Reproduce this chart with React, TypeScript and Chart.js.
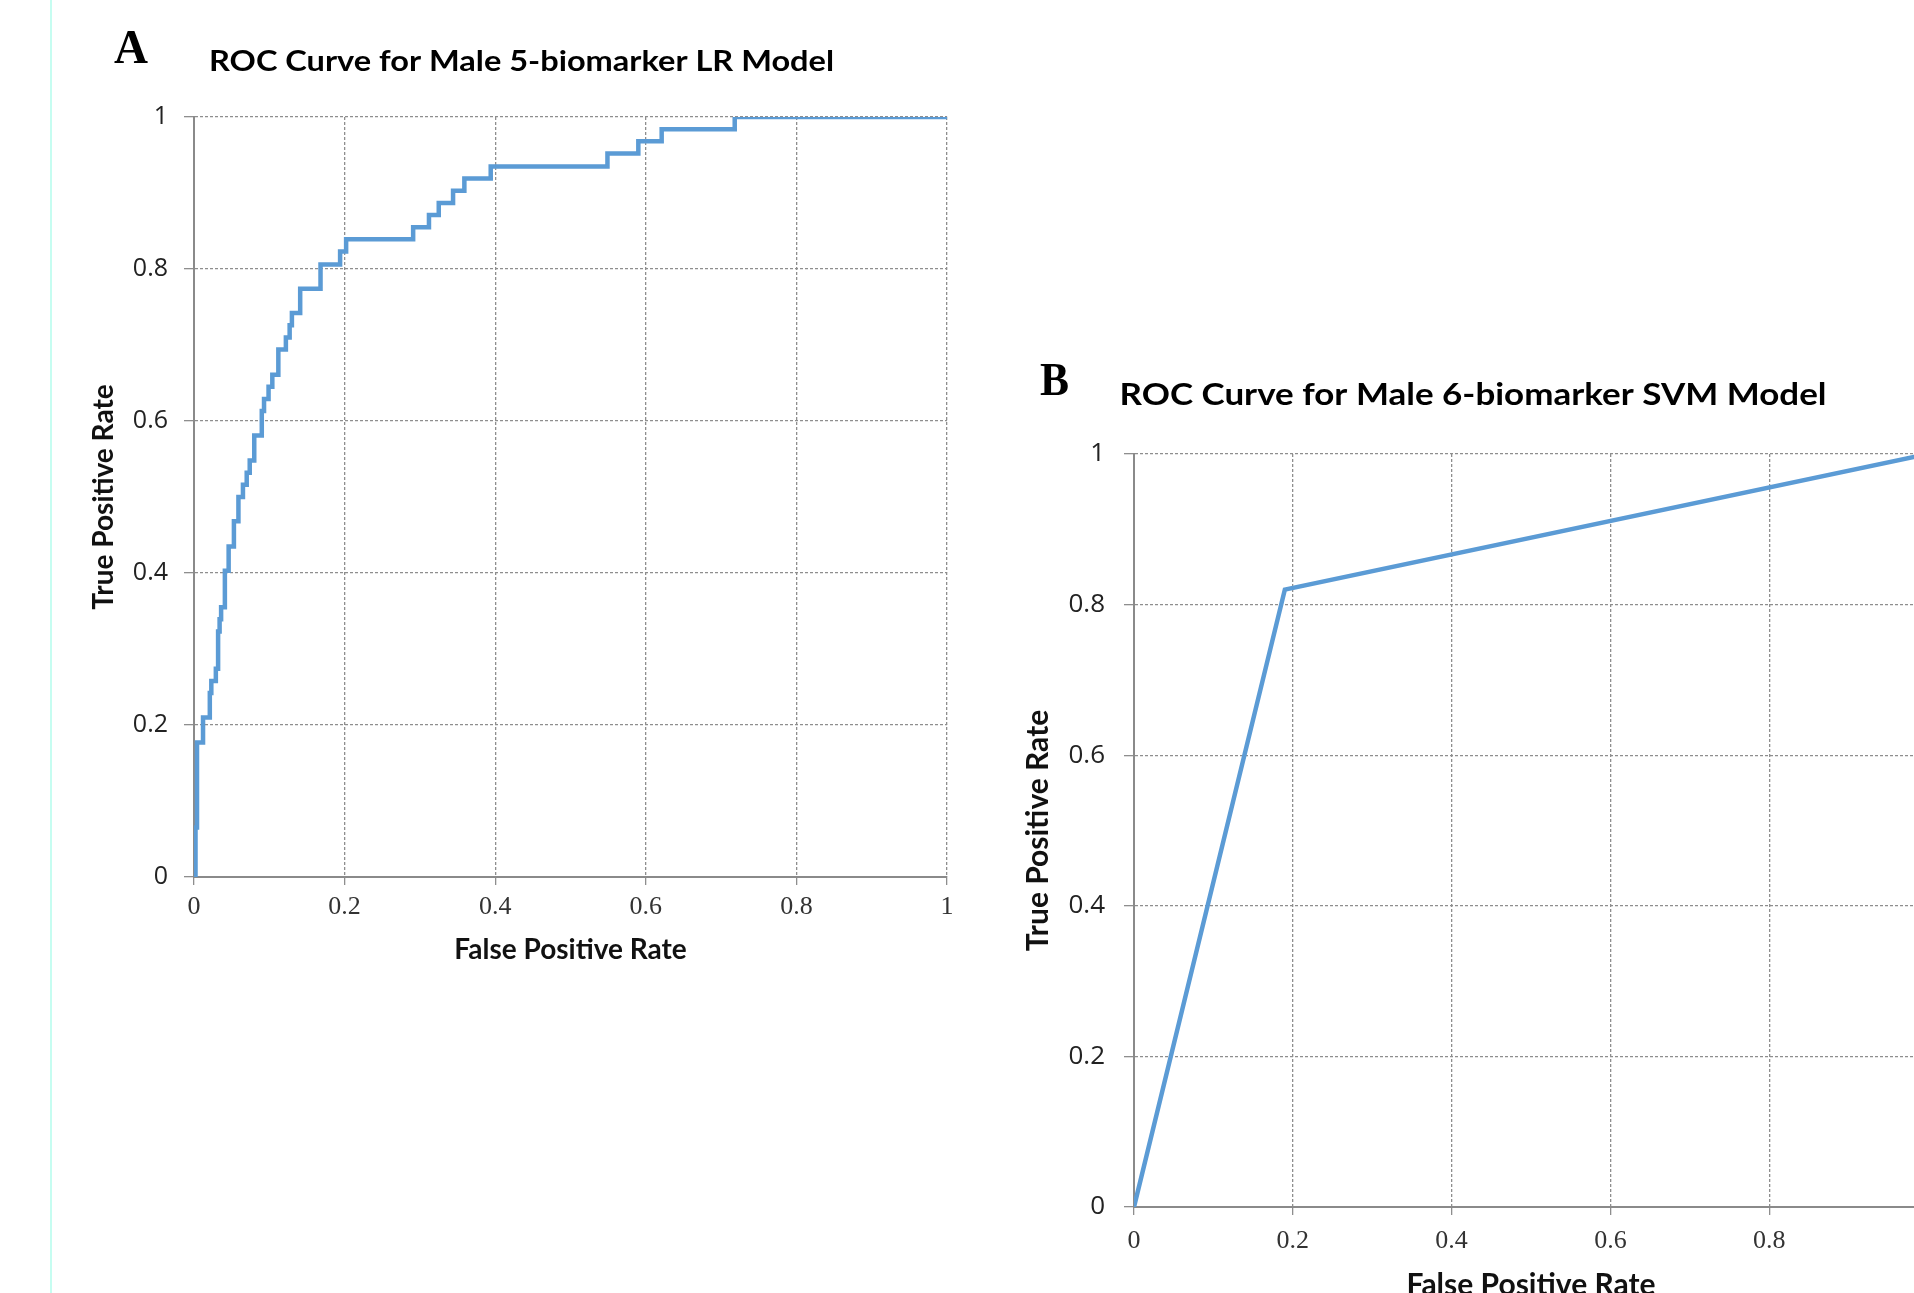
import React, { useEffect, useRef } from 'react';
import { Chart, registerables } from 'chart.js';

Chart.register(...registerables);

// Panel A: ROC corners (false positive rate, true positive rate)
const fprA = [0, 0.002, 0.004, 0.012, 0.021, 0.023, 0.029, 0.032, 0.034, 0.036, 0.041, 0.046, 0.053, 0.059, 0.065, 0.070, 0.074, 0.080, 0.090, 0.093, 0.099, 0.104, 0.112, 0.122, 0.127, 0.130, 0.141, 0.168, 0.194, 0.202, 0.291, 0.312, 0.325, 0.344, 0.359, 0.394, 0.549, 0.590, 0.621, 0.718, 1.0];
const tprA = [0, 0.065, 0.177, 0.210, 0.242, 0.258, 0.274, 0.323, 0.339, 0.355, 0.403, 0.435, 0.468, 0.500, 0.516, 0.532, 0.548, 0.581, 0.613, 0.629, 0.645, 0.661, 0.694, 0.710, 0.726, 0.742, 0.774, 0.806, 0.823, 0.839, 0.855, 0.871, 0.887, 0.903, 0.919, 0.935, 0.952, 0.968, 0.984, 1.0, 1.0];

// Panel B: SVM ROC points
const fprB = [0, 0.19, 1];
const tprB = [0, 0.82, 1];

const xTickLabels = ['0', '0.2', '0.4', '0.6', '0.8', '1'];
const yTickLabels = ['0', '0.2', '0.4', '0.6', '0.8', '1'];

const titleA = 'ROC Curve for Male 5-biomarker LR Model';
const titleB = 'ROC Curve for Male 6-biomarker SVM Model';
const xTitle = 'False Positive Rate';
const yTitle = 'True Positive Rate';

const LINE_BLUE = '#5b9bd5';
const GRID = '#8e8e8e';

type TextItem = { text: string; x: number; y: number; font: string; width?: number };

function makeTextPlugin(items: TextItem[]) {
  return {
    id: 'panelText',
    afterDraw(chart: any) {
      const ctx = chart.ctx as CanvasRenderingContext2D;
      items.forEach((it) => {
        ctx.save();
        ctx.font = it.font;
        ctx.fillStyle = '#000';
        ctx.textBaseline = 'alphabetic';
        ctx.textAlign = 'left';
        const w = ctx.measureText(it.text).width;
        const sx = it.width ? it.width / w : 1;
        ctx.translate(it.x, it.y);
        ctx.scale(sx, 1);
        ctx.fillText(it.text, 0, 0);
        ctx.restore();
      });
    },
  };
}

type Cfg = {
  xs: number[];
  ys: number[];
  stepped: boolean;
  padding: { left: number; top: number; right: number; bottom: number };
  yWidth: number;
  xHeight: number;
  yTickPad: number;
  xTickPad: number;
  yTitlePad: number;
  xTitlePad: number;
  titleSize: number;
  tickSizeY: number;
  items: TextItem[];
};

function makeConfig(c: Cfg): any {
  const pts = c.xs.map((x, i) => ({ x, y: c.ys[i] }));
  const gridCommon = { color: GRID, lineWidth: 1.3 };
  const border = { display: true, color: '#8a8a8a', width: 2, dash: [3, 2] };
  return {
    type: 'line',
    data: {
      datasets: [
        {
          data: pts,
          borderColor: LINE_BLUE,
          borderWidth: 4.5,
          pointRadius: 0,
          tension: 0,
          stepped: c.stepped ? 'before' : false,
          borderJoinStyle: 'miter',
          fill: false,
        },
      ],
    },
    options: {
      animation: false,
      responsive: false,
      devicePixelRatio: 1,
      layout: { padding: c.padding },
      plugins: { legend: { display: false }, tooltip: { enabled: false }, title: { display: false } },
      scales: {
        x: {
          type: 'linear',
          min: 0,
          max: 1,
          ticks: {
            stepSize: 0.2,
            padding: c.xTickPad,
            color: '#333',
            font: { family: "'Liberation Serif', serif", size: 26 },
            maxRotation: 0,
            callback: (_v: any, i: number) => xTickLabels[i],
          },
          grid: { ...gridCommon, tickLength: 8 },
          border,
          title: {
            display: true,
            text: xTitle,
            color: '#111',
            font: { family: 'Lato', size: c.titleSize, weight: 'bold' },
            padding: { top: 0, bottom: c.xTitlePad },
          },
          afterFit: (s: any) => {
            s.height = c.xHeight;
          },
        },
        y: {
          type: 'linear',
          min: 0,
          max: 1,
          ticks: {
            stepSize: 0.2,
            padding: c.yTickPad,
            color: '#222',
            font: { family: "'Open Sans'", size: c.tickSizeY },
            callback: (_v: any, i: number) => yTickLabels[i],
          },
          grid: { ...gridCommon, tickLength: 10 },
          border,
          title: {
            display: true,
            text: yTitle,
            color: '#111',
            font: { family: 'Lato', size: c.titleSize, weight: 'bold' },
            padding: { top: c.yTitlePad, bottom: 0 },
          },
          afterFit: (s: any) => {
            s.width = c.yWidth;
          },
        },
      },
    },
    plugins: [makeTextPlugin(c.items)],
  };
}

function ChartCanvas({ cfg, left, top, width, height }: { cfg: Cfg; left: number; top: number; width: number; height: number }) {
  const ref = useRef<HTMLCanvasElement | null>(null);
  useEffect(() => {
    if (!ref.current) return;
    const chart = new Chart(ref.current, makeConfig(cfg));
    return () => chart.destroy();
  }, []);
  return (
    <canvas
      ref={ref}
      width={width}
      height={height}
      style={{ position: 'absolute', left, top, width, height }}
    />
  );
}

const cfgA: Cfg = {
  xs: fprA,
  ys: tprA,
  stepped: true,
  padding: { left: 0, top: 117, right: 11, bottom: 0 },
  yWidth: 194,
  xHeight: 123,
  yTickPad: 16,
  xTickPad: 6.4,
  yTitlePad: 87.2,
  xTitlePad: 33.7,
  titleSize: 28,
  tickSizeY: 25,
  items: [
    { text: 'A', x: 114, y: 63, font: "bold 48px 'Liberation Serif'", width: 34 },
    { text: titleA, x: 209, y: 71, font: 'bold 29px Lato', width: 625 },
  ],
};

const cfgB: Cfg = {
  xs: fprB,
  ys: tprB,
  stepped: false,
  padding: { left: 0, top: 154, right: 32, bottom: 0 },
  yWidth: 174,
  xHeight: 143,
  yTickPad: 19,
  xTickPad: 10.8,
  yTitlePad: 60,
  xTitlePad: 47,
  titleSize: 30,
  tickSizeY: 26,
  items: [
    { text: 'B', x: 80, y: 95, font: "bold 46px 'Liberation Serif'", width: 29 },
    { text: titleB, x: 159.5, y: 105, font: 'bold 30px Lato', width: 707 },
  ],
};

export default function App() {
  return (
    <div
      style={{
        position: 'fixed',
        left: 0,
        top: 0,
        width: 1914,
        height: 1293,
        overflow: 'hidden',
        background: '#fff',
      }}
    >
      <div style={{ position: 'absolute', left: 50, top: 0, width: 2, height: 1293, background: '#c6fdf1' }} />
      <ChartCanvas cfg={cfgA} left={0} top={0} width={960} height={1000} />
      <ChartCanvas cfg={cfgB} left={960} top={300} width={1000} height={1050} />
    </div>
  );
}
